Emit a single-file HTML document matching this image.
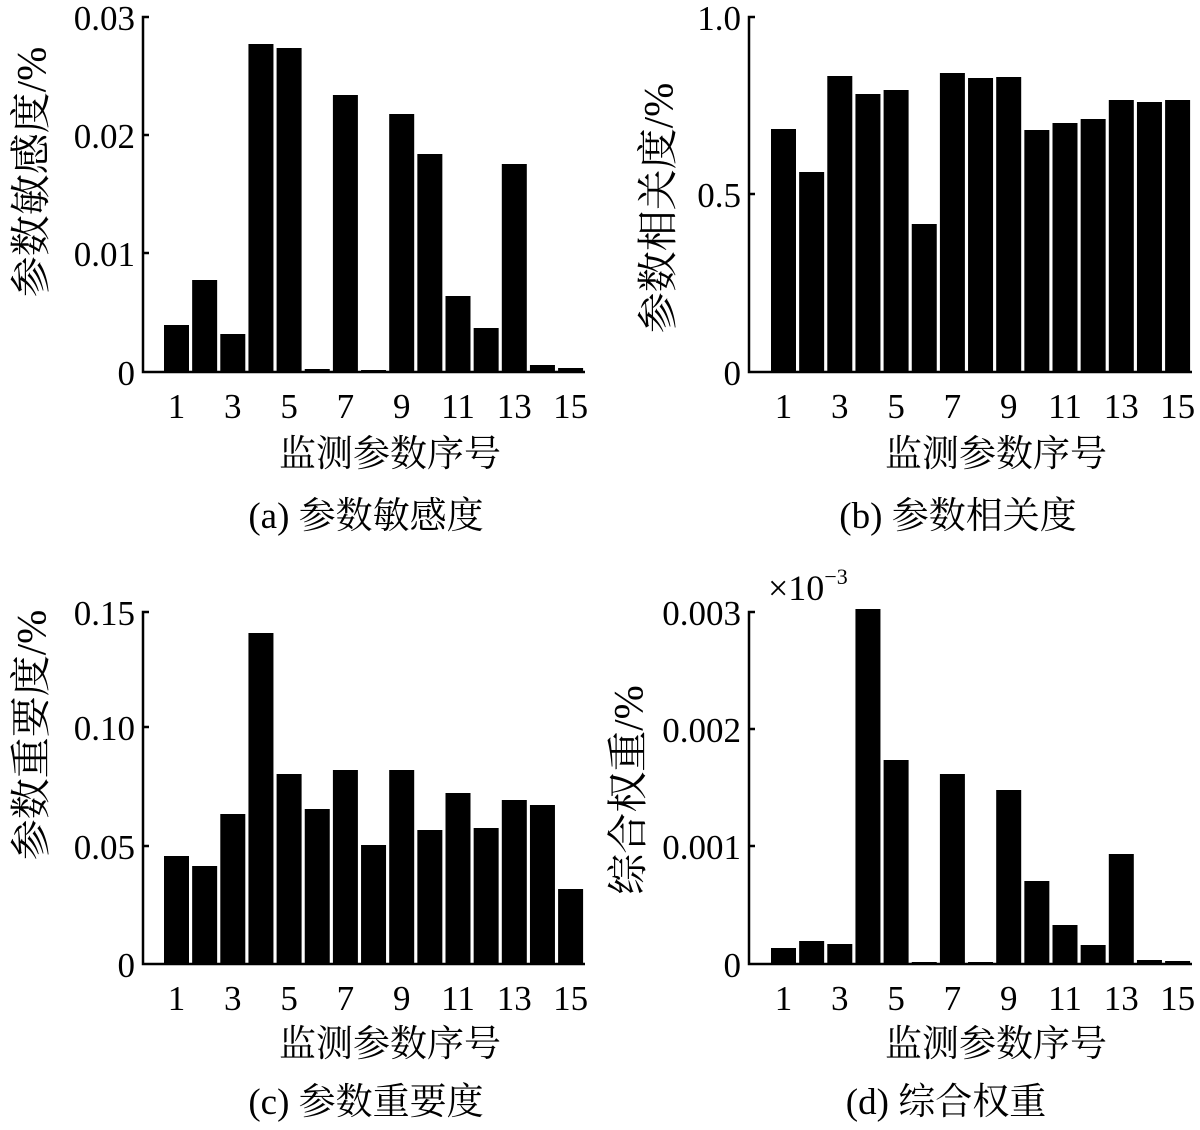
<!DOCTYPE html>
<html><head><meta charset="utf-8"><style>
body{margin:0;background:#fff}
svg text{font-family:"Liberation Serif","Noto Serif CJK SC","Noto Sans CJK SC",serif;fill:#000}
.t{font-size:35px}
.c{font-size:37px;font-family:"Liberation Serif","Noto Sans CJK SC",sans-serif}
.y{font-size:41px;font-family:"Liberation Serif","Noto Sans CJK SC",sans-serif}
</style></head><body>
<svg id="s" width="1200" height="1125" viewBox="0 0 1200 1125" xmlns="http://www.w3.org/2000/svg">
<g stroke="#000" stroke-width="2.5" fill="none">
<path d="M149,17 H143 V372 H585 M143,253 H149 M143,135 H149"/>
<path d="M755,17 H749 V372 H1192 M749,194 H755"/>
<path d="M149,612 H143 V964 H585 M143,727 H149 M143,846 H149"/>
<path d="M755,612 H749 V964 H1192 M749,729 H755 M749,846 H755"/>
</g>
<g id="bars" fill="#000"></g>
<g class="t" text-anchor="end">
<text x="135" y="30">0.03</text><text x="135" y="266">0.01</text><text x="135" y="148">0.02</text><text x="135" y="385">0</text>
<text x="741" y="30">1.0</text><text x="741" y="207">0.5</text><text x="741" y="385">0</text>
<text x="135" y="625">0.15</text><text x="135" y="740">0.10</text><text x="135" y="859">0.05</text><text x="135" y="977">0</text>
<text x="741" y="625">0.003</text><text x="741" y="742">0.002</text><text x="741" y="859">0.001</text><text x="741" y="977">0</text>
</g>
<g class="t" text-anchor="middle">
<text x="176.5" y="418">1</text><text x="232.8" y="418">3</text><text x="289.1" y="418">5</text><text x="345.4" y="418">7</text><text x="401.7" y="418">9</text><text x="458" y="418">11</text><text x="514.3" y="418">13</text><text x="570.6" y="418">15</text>
<text x="783.5" y="418">1</text><text x="839.8" y="418">3</text><text x="896.1" y="418">5</text><text x="952.4" y="418">7</text><text x="1008.7" y="418">9</text><text x="1065" y="418">11</text><text x="1121.3" y="418">13</text><text x="1177.6" y="418">15</text>
<text x="176.5" y="1010">1</text><text x="232.8" y="1010">3</text><text x="289.1" y="1010">5</text><text x="345.4" y="1010">7</text><text x="401.7" y="1010">9</text><text x="458" y="1010">11</text><text x="514.3" y="1010">13</text><text x="570.6" y="1010">15</text>
<text x="783.5" y="1010">1</text><text x="839.8" y="1010">3</text><text x="896.1" y="1010">5</text><text x="952.4" y="1010">7</text><text x="1008.7" y="1010">9</text><text x="1065" y="1010">11</text><text x="1121.3" y="1010">13</text><text x="1177.6" y="1010">15</text>
</g>
<g class="c" text-anchor="middle">
<text x="390" y="466">监测参数序号</text><text x="996" y="466">监测参数序号</text>
<text x="390" y="1056">监测参数序号</text><text x="996" y="1056">监测参数序号</text>
<text x="366" y="528">(a) 参数敏感度</text><text x="958" y="528">(b) 参数相关度</text>
<text x="366" y="1114">(c) 参数重要度</text><text x="946" y="1114">(d) 综合权重</text>
</g>
<g class="y" text-anchor="middle">
<text transform="translate(45,172) rotate(-90)">参数敏感度/%</text>
<text transform="translate(672,208) rotate(-90)">参数相关度/%</text>
<text transform="translate(45,735) rotate(-90)">参数重要度/%</text>
<text transform="translate(642,790) rotate(-90)">综合权重/%</text>
</g>
<text x="768" y="600" style="font-size:36px">×10<tspan font-size="22" dy="-16">−3</tspan></text>
</svg>
<script>
var g=document.getElementById('bars');
function B(x0,base,h){for(var i=0;i<15;i++){var r=document.createElementNS('http://www.w3.org/2000/svg','rect');r.setAttribute('x',x0+28.15*i);r.setAttribute('y',base-h[i]);r.setAttribute('width',25);r.setAttribute('height',h[i]);g.appendChild(r);}}
B(164,372,[47,92,38,328,324,3,277,2,258,218,76,44,208,7,4]);
B(771,372,[243,200,296,278,282,148,299,294,295,242,249,253,272,270,272]);
B(164,964,[108,98,150,331,190,155,194,119,194,134,171,136,164,159,75]);
B(771,964,[16,23,20,355,204,2,190,2,174,83,39,19,110,4,3]);
</script>
</body></html>
